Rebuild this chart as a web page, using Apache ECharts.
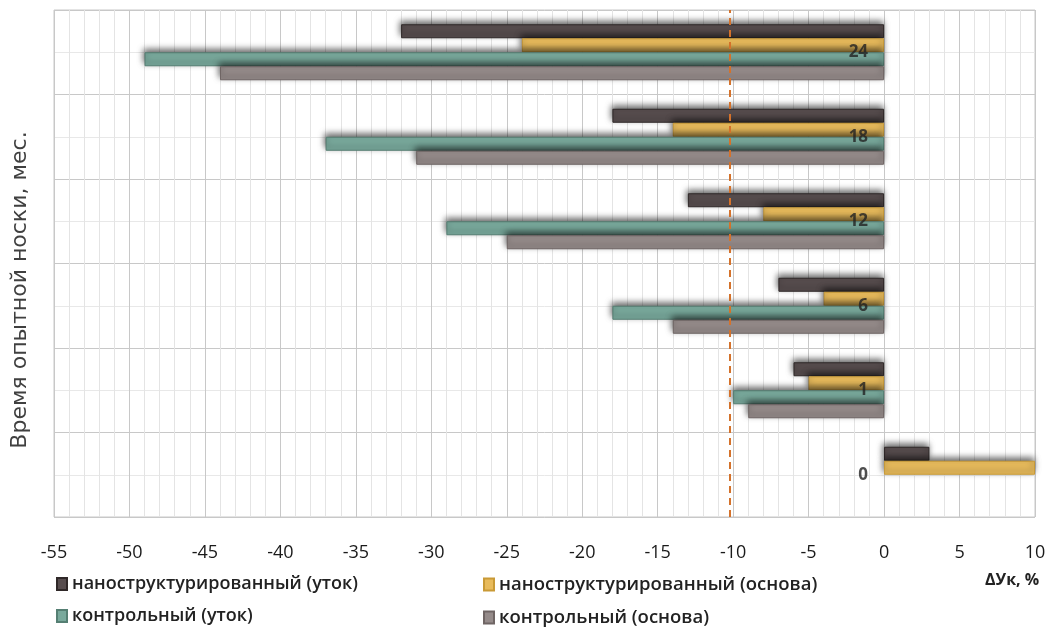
<!DOCTYPE html>
<html>
<head>
<meta charset="utf-8">
<script src="https://cdn.jsdelivr.net/npm/echarts@6/dist/echarts.min.js"></script>
<style>
html,body{margin:0;padding:0;background:#fff;}
#chart{width:1049px;height:633px;}
</style>
</head>
<body>
<div id="chart"></div>
<script>
const categories = ['0', '1', '6', '12', '18', '24'];
const seriesNames = [
  'наноструктурированный (уток)',
  'наноструктурированный (основа)',
  'контрольный (уток)',
  'контрольный (основа)'
];
const nanoWeft = [3, -6, -7, -13, -18, -32];
const nanoWarp = [10, -5, -4, -8, -14, -24];
const ctrlWeft = [null, -10, -18, -29, -37, -49];
const ctrlWarp = [null, -9, -14, -25, -31, -44];
const thresholdLine = -10.2;
const xTicks = [-55, 10, 5];

const colors = ['#574d4e', '#e8bb5c', '#79a99c', '#958b8a'];
const borders = ['#2f2828', '#c99a36', '#557f73', '#6f6564'];
const dataSets = [nanoWeft, nanoWarp, ctrlWeft, ctrlWarp];

const font = "'Open Sans', sans-serif";

const chart = echarts.init(document.getElementById('chart'));

const series = [0, 1, 2, 3].map(function (i) {
  const s = {
    name: seriesNames[i],
    type: 'bar',
    data: dataSets[i],
    barWidth: 14,
    barGap: '0%',
    itemStyle: {
      color: colors[i],
      borderColor: borders[i],
      borderWidth: 1,
      shadowColor: 'rgba(0,0,0,0.6)',
      shadowBlur: 6,
      shadowOffsetX: -1,
      shadowOffsetY: -3
    },
    emphasis: { disabled: true },
    z: 3
  };
  if (i === 0) {
    s.markLine = {
      silent: true,
      symbol: ['none', 'none'],
      label: { show: false },
      lineStyle: { color: '#d4722b', width: 2, type: [7, 5] },
      data: [{ xAxis: thresholdLine }],
      z: 10
    };
  }
  return s;
});

// category labels placed at x = 0, like the reference's axis crossing
series.push({
  type: 'scatter',
  name: 'labels',
  data: categories.map(function (c) { return [0, c]; }),
  symbolSize: 0,
  silent: true,
  label: {
    show: true,
    position: 'left',
    distance: 16,
    formatter: function (p) { return p.data[1]; },
    fontSize: 17,
    fontWeight: 'bold',
    color: '#222',
    fontFamily: font
  },
  z: 20
});

const option = {
  animation: false,
  backgroundColor: '#fff',
  grid: {
    left: 54, right: 14, top: 10, bottom: 116,
    show: true, borderColor: '#c8c8c8', borderWidth: 1, backgroundColor: 'transparent'
  },
  xAxis: {
    type: 'value',
    min: xTicks[0], max: xTicks[1], interval: xTicks[2],
    axisLine: { show: false },
    axisTick: { show: false },
    axisLabel: { fontSize: 18, color: '#1a1a1a', margin: 27, fontFamily: font },
    splitLine: { show: true, lineStyle: { color: '#c8c8c8', width: 1 } },
    minorTick: { show: false, splitNumber: 5 },
    minorSplitLine: { show: true, lineStyle: { color: '#e4e4e4', width: 1 } }
  },
  yAxis: [
    {
      type: 'category',
      data: categories,
      axisLine: { show: false },
      axisTick: { show: false },
      axisLabel: { show: false },
      splitLine: { show: false }
    },
    {
      type: 'value',
      min: 0, max: 12, interval: 1,
      position: 'right',
      axisLine: { show: false },
      axisTick: { show: false },
      axisLabel: { show: false },
      splitLine: { show: true, lineStyle: { color: ['#c8c8c8', '#e8e8e8'], width: 1 } }
    }
  ],
  legend: [
    {
      data: [seriesNames[0], seriesNames[2]],
      orient: 'vertical',
      left: 51, top: 570,
      itemWidth: 10, itemHeight: 12, itemGap: 14,
      icon: 'rect',
      textStyle: { fontSize: 18, color: '#222', fontFamily: font, fontWeight: 600 },
      selectedMode: false
    },
    {
      data: [seriesNames[1], seriesNames[3]],
      orient: 'vertical',
      left: 478, top: 570,
      itemWidth: 10, itemHeight: 12, itemGap: 14,
      icon: 'rect',
      textStyle: { fontSize: 18.5, color: '#222', fontFamily: font, fontWeight: 600 },
      selectedMode: false
    }
  ],
  graphic: [
    {
      type: 'text',
      left: 985, top: 572,
      style: { text: 'ΔУк, %', fontSize: 16, fontWeight: 'bold', fill: '#222', fontFamily: font }
    },
    {
      type: 'text',
      x: 20, y: 290,
      rotation: Math.PI / 2,
      style: {
        text: 'Время опытной носки, мес.', fontSize: 22, fill: '#404040',
        fontFamily: "'DejaVu Sans', sans-serif", align: 'center', verticalAlign: 'middle'
      }
    }
  ],
  series: series
};
chart.setOption(option);
</script>
</body>
</html>
